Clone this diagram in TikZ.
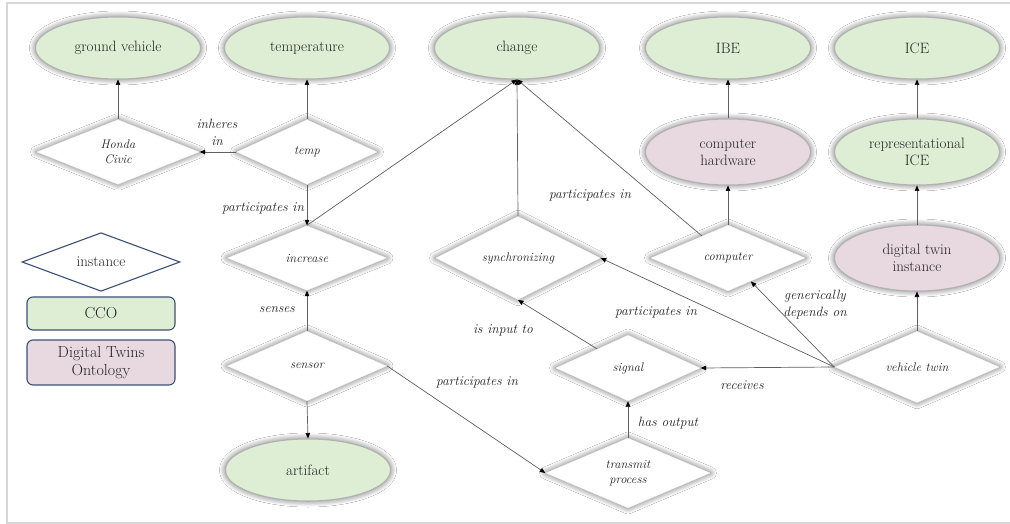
\documentclass[tikz,border=0pt]{standalone}
\usetikzlibrary{shapes.geometric,arrows.meta,shadows.blur}
\definecolor{ccogreen}{RGB}{221,238,213}
\definecolor{dtpink}{RGB}{232,216,224}
\definecolor{legblue}{RGB}{60,80,115}
\definecolor{txt}{RGB}{35,35,35}
\definecolor{edgec}{RGB}{95,95,95}
\definecolor{framec}{RGB}{215,215,215}
\begin{document}
\begin{tikzpicture}[x=1pt,y=-1pt,
  glow/.style={blur shadow={shadow xshift=0pt,shadow yshift=0pt,shadow scale=1,shadow blur radius=6pt,shadow blur steps=14,shadow opacity=60}},
  clsnode/.style={ellipse,draw=gray!60,line width=1pt,minimum width=165pt,minimum height=62pt,inner sep=0pt,font=\fontsize{15}{17}\selectfont,text=txt,align=center,glow},
  ccocls/.style={clsnode,fill=ccogreen},
  dtcls/.style={clsnode,fill=dtpink},
  inst/.style={diamond,draw=gray!20,line width=0.4pt,fill=white,minimum width=160pt,minimum height=66pt,inner sep=0pt,font=\fontsize{12.5}{15}\selectfont\itshape,text=txt,align=center,glow},
  lbl/.style={font=\fontsize{13.5}{17}\selectfont\itshape,text=txt,align=center,inner sep=1pt},
  rel/.style={draw=edgec,line width=0.7pt,-{Triangle[length=5.5pt,width=4.5pt,color=black]}},
  legbox/.style={rectangle,rounded corners=6pt,draw=legblue,line width=1.1pt,minimum width=148pt,inner sep=0pt,font=\fontsize{16}{18}\selectfont,text=txt,align=center}
]
\useasboundingbox (0,0) rectangle (1010,524);
\fill[white] (0,0) rectangle (1010,524);
\draw[framec,line width=2pt] (1010,3) -- (7,3) -- (7,523) -- (1010,523);

% classes
\node[ccocls] (gv) at (118,48) {ground vehicle};
\node[ccocls] (temperature) at (307,48) {temperature};
\node[ccocls] (change) at (517,48) {change};
\node[ccocls] (ibe) at (728,48) {IBE};
\node[ccocls] (ice) at (917,48) {ICE};
\node[dtcls,minimum height=66pt] (ch) at (728,152) {computer\\hardware};
\node[ccocls,minimum height=66pt] (rice) at (917,152) {representational\\ICE};
\node[dtcls,minimum height=66pt] (dti) at (917,258) {digital twin\\instance};
\node[ccocls] (artifact) at (308,470) {artifact};

% instances
\node[inst,minimum width=163pt,minimum height=65pt] (honda) at (118,152) {Honda\\Civic};
\node[inst,minimum width=141pt,minimum height=65pt] (temp) at (307,152) {temp};
\node[inst,minimum width=160pt,minimum height=65pt] (increase) at (307,258) {increase};
\node[inst,minimum width=165pt,minimum height=66pt] (sync) at (518,258) {synchronizing};
\node[inst,minimum width=155pt,minimum height=66pt] (computer) at (728,258) {computer};
\node[inst,minimum width=160pt,minimum height=70pt] (sensor) at (307,366) {sensor};
\node[inst,minimum width=145pt,minimum height=66pt] (signal) at (628,368) {signal};
\node[inst,minimum width=165pt,minimum height=67pt] (vt) at (917,367) {vehicle twin};
\node[inst,minimum width=165pt,minimum height=62pt] (transmit) at (628,473) {transmit\\process};

% legend
\node[diamond,draw=legblue,line width=1.1pt,fill=white,minimum width=158pt,minimum height=43pt,inner sep=0pt,font=\fontsize{15}{17}\selectfont,text=txt] (leginst) at (101,262) {instance};
\node[legbox,fill=ccogreen,minimum height=33pt] (legcco) at (101,313.5) {CCO};
\node[legbox,fill=dtpink,minimum height=45pt] (legdt) at (101,362.5) {Digital Twins\\Ontology};

% relations
\draw[rel] (honda.north) -- (gv.south);
\draw[rel] (temp.north) -- (temperature.south);
\draw[rel] (temp.west) -- (honda.east);
\draw[rel] (temp.south) -- (increase.north);
\draw[rel] (increase.north) -- (change.south);
\draw[rel] (sync.north) -- (change.south);
\draw[rel] (computer) -- (change.south);
\draw[rel] (computer.north) -- (ch.south);
\draw[rel] (ch.north) -- (ibe.south);
\draw[rel] (rice.north) -- (ice.south);
\draw[rel] (dti.north) -- (rice.south);
\draw[rel] (vt.north) -- (dti.south);
\draw[rel] (vt.west) -- (computer);
\draw[rel] (vt.west) -- (sync.east);
\draw[rel] (vt.west) -- (signal.east);
\draw[rel] (signal) -- (sync.south);
\draw[rel] (transmit.north) -- (signal.south);
\draw[rel] (sensor.east) -- (transmit.west);
\draw[rel] (sensor.north) -- (increase.south);
\draw[rel] (sensor.south) -- (artifact.north);

% labels
\node[lbl] (l1) at (217,132) {inheres\\in};
\node[lbl] (l2) at (263,208) {participates in};
\node[lbl] (l3) at (590,195) {participates in};
\node[lbl] (l4) at (277,310) {senses};
\node[lbl] (l5) at (477,382) {participates in};
\node[lbl] (l6) at (503,330) {is input to};
\node[lbl] (l7) at (656,312) {participates in};
\node[lbl] (l8) at (815,305) {generically\\depends on};
\node[lbl] (l9) at (742,385) {receives};
\node[lbl] (l10) at (668,423) {has output};
\end{tikzpicture}
\end{document}
